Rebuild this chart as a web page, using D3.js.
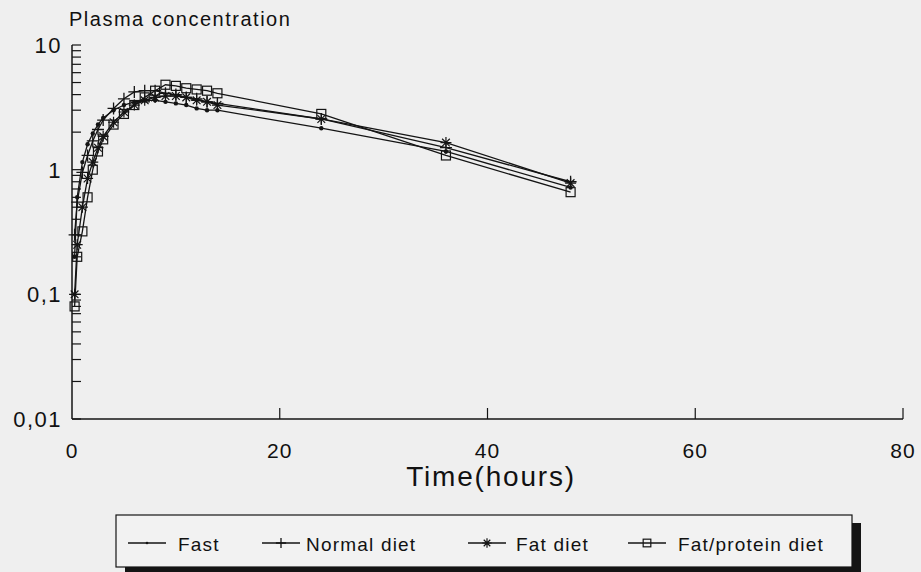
<!DOCTYPE html>
<html>
<head>
<meta charset="utf-8">
<script src="https://cdn.jsdelivr.net/npm/d3@7"></script>
<style>
  body { margin: 0; background: #efefef; }
  svg { display: block; }
  text { font-family: "Liberation Sans", Arial, sans-serif; fill: #111; }
</style>
</head>
<body>
<div id="chart"></div>
<script>
const width = 921, height = 572;
const margin = { top: 45, left: 72, right: 18, bottom: 153 };

// sampling times (hours)
const times = [0.25, 0.5, 1, 1.5, 2, 2.5, 3, 4, 5, 6, 7, 8, 9, 10, 11, 12, 13, 14, 24, 36, 48];

// plasma concentration per group
const fast =       [0.2, 0.6, 1.15, 1.6, 1.95, 2.3, 2.6, 3.0, 3.3, 3.5, 3.6, 3.6, 3.5, 3.4, 3.3, 3.1, 3.0, 3.0, 2.15, 1.4, 0.72];
const normalDiet = [0.3, 0.55, 0.95, 1.3, 1.7, 2.1, 2.5, 3.1, 3.7, 4.2, 4.3, 4.3, 4.1, 4.0, 3.8, 3.7, 3.5, 3.4, 2.55, 1.5, 0.8];
const fatDiet =    [0.1, 0.25, 0.5, 0.85, 1.15, 1.5, 1.85, 2.4, 2.9, 3.3, 3.6, 3.8, 3.9, 3.9, 3.8, 3.6, 3.5, 3.3, 2.55, 1.65, 0.78];
const fatProtein = [0.08, 0.2, 0.32, 0.6, 1.0, 1.4, 1.75, 2.3, 2.8, 3.3, 3.8, 4.3, 4.8, 4.7, 4.5, 4.4, 4.3, 4.1, 2.8, 1.3, 0.66];

const seriesNames = ['Fast', 'Normal diet', 'Fat diet', 'Fat/protein diet'];
const seriesValues = [fast, normalDiet, fatDiet, fatProtein];
const markers = ['dot', 'plus', 'star', 'square'];

const xTicks = [0, 20, 40, 60, 80];
const yTicks = [10, 1, 0.1, 0.01];
const yLabels = ['10', '1', '0,1', '0,01'];

const ink = '#141414';

const svg = d3.select('#chart').append('svg')
    .attr('width', width)
    .attr('height', height);

const x = d3.scaleLinear().domain([0, 80]).range([margin.left, 903]);
const y = d3.scaleLog().domain([0.01, 10]).range([height - margin.bottom, margin.top]);

// title
svg.append('text')
    .attr('x', 69).attr('y', 26)
    .style('font-size', '20px')
    .style('letter-spacing', '1.5px')
    .text('Plasma concentration');

// y axis
const yAxis = svg.append('g');
yAxis.append('line')
    .attr('x1', x(0)).attr('x2', x(0))
    .attr('y1', y(10)).attr('y2', y(0.01))
    .attr('stroke', ink).attr('stroke-width', 1.5);

const minor = [];
[0.01, 0.1, 1].forEach(d => { for (let k = 1; k <= 9; k++) minor.push(d * k); });
minor.push(10);
yAxis.selectAll('.ytick')
    .data(minor)
    .enter().append('line')
    .attr('x1', x(0)).attr('x2', x(0) + 9)
    .attr('y1', d => y(d)).attr('y2', d => y(d))
    .attr('stroke', ink).attr('stroke-width', 1.2);

yAxis.selectAll('.ylab')
    .data(yTicks)
    .enter().append('text')
    .attr('x', 62)
    .attr('y', d => y(d) + 8)
    .attr('text-anchor', 'end')
    .style('font-size', '22px')
    .style('letter-spacing', '1.5px')
    .text((d, i) => yLabels[i]);

// x axis
const xAxis = svg.append('g');
xAxis.append('line')
    .attr('x1', x(0)).attr('x2', x(80))
    .attr('y1', y(0.01)).attr('y2', y(0.01))
    .attr('stroke', ink).attr('stroke-width', 1.5);

xAxis.selectAll('.xtick')
    .data(xTicks.slice(1))
    .enter().append('line')
    .attr('x1', d => x(d)).attr('x2', d => x(d))
    .attr('y1', y(0.01)).attr('y2', y(0.01) - 11)
    .attr('stroke', ink).attr('stroke-width', 1.2);

xAxis.selectAll('.xlab')
    .data(xTicks)
    .enter().append('text')
    .attr('x', d => x(d))
    .attr('y', y(0.01) + 39)
    .attr('text-anchor', 'middle')
    .style('font-size', '21px')
    .style('letter-spacing', '1px')
    .text(d => d);

svg.append('text')
    .attr('x', 491).attr('y', 486)
    .attr('text-anchor', 'middle')
    .style('font-size', '28px')
    .style('letter-spacing', '1.8px')
    .text('Time(hours)');

// marker drawing
function drawMarker(g, type, s) {
    if (type === 'dot') {
        g.append('circle').attr('r', 2.2 * s).attr('fill', ink);
    } else if (type === 'plus') {
        g.append('path').attr('d', `M${-6 * s},0H${6 * s}M0,${-6 * s}V${6 * s}`)
            .attr('stroke', ink).attr('stroke-width', 1.3).attr('fill', 'none');
    } else if (type === 'star') {
        const r = 5.5 * s;
        const a = r * 0.7;
        g.append('path').attr('d', `M${-r},0H${r}M0,${-r}V${r}M${-a},${-a}L${a},${a}M${-a},${a}L${a},${-a}`)
            .attr('stroke', ink).attr('stroke-width', 1.2).attr('fill', 'none');
    } else if (type === 'square') {
        g.append('rect').attr('x', -4.5 * s).attr('y', -4.5 * s)
            .attr('width', 9 * s).attr('height', 9 * s)
            .attr('stroke', ink).attr('stroke-width', 1.2).attr('fill', 'none');
    }
}

// series
const line = d3.line().x(d => x(d[0])).y(d => y(d[1]));
const plot = svg.append('g');
seriesValues.forEach((vals, i) => {
    const pts = times.map((t, j) => [t, vals[j]]);
    plot.append('path')
        .datum(pts)
        .attr('d', line)
        .attr('fill', 'none')
        .attr('stroke', ink)
        .attr('stroke-width', 1.3);
    plot.selectAll('.m' + i)
        .data(pts)
        .enter().append('g')
        .attr('transform', d => `translate(${x(d[0])},${y(d[1])})`)
        .each(function () { drawMarker(d3.select(this), markers[i], 1); });
});

// legend
const legend = svg.append('g');
const lx = 116, ly = 515, lw = 736, lh = 52;
legend.append('rect')
    .attr('x', lx + 9).attr('y', ly + 8)
    .attr('width', lw).attr('height', lh)
    .attr('fill', ink);
legend.append('rect')
    .attr('x', lx).attr('y', ly)
    .attr('width', lw).attr('height', lh)
    .attr('fill', '#f2f2f2')
    .attr('stroke', ink).attr('stroke-width', 1.2);

const legendLineX = [128, 262, 468, 628];
const legendTextX = [178, 306, 516, 678];
seriesNames.forEach((name, i) => {
    const cy = 543;
    legend.append('line')
        .attr('x1', legendLineX[i]).attr('x2', legendLineX[i] + 38)
        .attr('y1', cy).attr('y2', cy)
        .attr('stroke', ink).attr('stroke-width', 1.3);
    const m = legend.append('g').attr('transform', `translate(${legendLineX[i] + 19},${cy})`);
    drawMarker(m, markers[i], markers[i] === 'dot' ? 0.6 : 0.85);
    legend.append('text')
        .attr('x', legendTextX[i]).attr('y', cy + 8)
        .style('font-size', '19px')
        .style('letter-spacing', '1.2px')
        .text(name);
});
</script>
</body>
</html>
